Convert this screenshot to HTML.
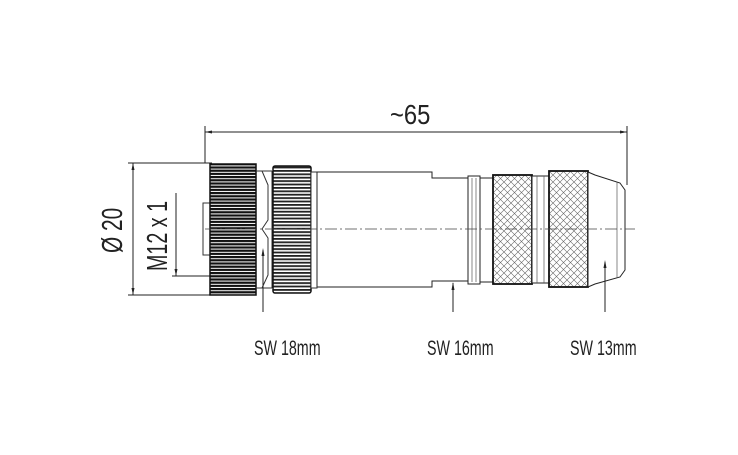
<!DOCTYPE html>
<html><head><style>
html,body{margin:0;padding:0;background:#fff;}
svg{display:block;}
text{font-family:"Liberation Sans",sans-serif;fill:#222;}
</style></head><body>
<svg width="738" height="455" viewBox="0 0 738 455" xmlns="http://www.w3.org/2000/svg">
<defs>
<pattern id="hs" width="4" height="3.2" patternUnits="userSpaceOnUse">
<rect width="4" height="3.2" fill="#fff"/><rect width="4" height="2.2" fill="#111"/>
</pattern>
<pattern id="hs2" width="4" height="3.4" patternUnits="userSpaceOnUse">
<rect width="4" height="3.4" fill="#fff"/><rect width="4" height="1.8" fill="#222"/>
</pattern>
<pattern id="kn" width="7" height="7" patternUnits="userSpaceOnUse">
<rect width="7" height="7" fill="#fff"/>
<path d="M0 0L7 7M7 0L0 7" stroke="#666" stroke-width="0.6"/>
</pattern>
</defs>
<g stroke="#222" stroke-width="1" fill="none">
<line x1="205" y1="126" x2="205" y2="163"/>
<line x1="627" y1="126" x2="627" y2="185"/>
<line x1="205" y1="132" x2="627" y2="132"/>
<line x1="128" y1="163" x2="212" y2="163"/>
<line x1="128" y1="295" x2="212" y2="295"/>
<line x1="133" y1="163" x2="133" y2="295"/>
<line x1="176" y1="193" x2="176" y2="276"/>
<line x1="172" y1="276" x2="212" y2="276"/>
</g>
<g fill="#222">
<polygon points="205,132 212,130.5 212,133.5"/>
<polygon points="627,132 620,130.5 620,133.5"/>
<polygon points="133,163 131.5,170 134.5,170"/>
<polygon points="133,295 131.5,288 134.5,288"/>
<polygon points="176,276 174.5,269 177.5,269"/>
</g>
<rect x="203" y="203" width="8" height="52" fill="#fff" stroke="#333"/>
<rect x="210" y="164" width="46" height="131" fill="url(#hs)" stroke="#111" stroke-width="1.5"/>
<g stroke="#333" fill="none">
<line x1="256" y1="171" x2="272" y2="171"/>
<line x1="256" y1="288" x2="272" y2="288"/>
<path d="M262 171 L268 185 L268 220 L262 229 L268 238 L268 275 L262 288"/>
<line x1="272" y1="171" x2="272" y2="288"/>
</g>
<rect x="273" y="166" width="38" height="127" rx="2" fill="url(#hs2)" stroke="#111" stroke-width="1.5"/>
<rect x="311" y="172" width="6" height="116" fill="#fff" stroke="#333"/>
<g stroke="#222" fill="#fff">
<path d="M317 172 L432 172 L432 178 L468 178 L468 281 L432 281 L432 287 L317 287 Z"/>
<path d="M468 176 L480 176 L480 284 L468 284 Z"/>
<path d="M480 178 L493 178 L493 282 L480 282 Z"/>
<rect x="493" y="175" width="39" height="109" fill="url(#kn)" stroke="#111" stroke-width="1.8"/>
<rect x="532" y="176" width="17" height="107"/>
<rect x="549" y="171" width="39" height="116" fill="url(#kn)" stroke="#111" stroke-width="1.8"/>
<path d="M588 172 L595 175 L620 183 L625 190 L625 270 L620 277 L595 284 L588 287 Z"/>
</g>
<g stroke="#555" stroke-width="0.7">
<line x1="472" y1="178" x2="472" y2="282"/>
<line x1="476" y1="178" x2="476" y2="282"/>
<line x1="537" y1="176" x2="537" y2="283"/>
<line x1="544" y1="176" x2="544" y2="283"/>
<line x1="617" y1="182" x2="617" y2="278"/>
</g>
<line x1="205" y1="229" x2="635" y2="229" stroke="#444" stroke-width="0.8" stroke-dasharray="12,3,2,3"/>
<g stroke="#222">
<line x1="263" y1="312" x2="263" y2="250"/>
<line x1="453" y1="312" x2="453" y2="283"/>
<line x1="605" y1="312" x2="605" y2="262"/>
</g>
<g fill="#222">
<polygon points="263,248 261.5,256 264.5,256"/>
<polygon points="453,282 451.5,290 454.5,290"/>
<polygon points="605,260 603.5,268 606.5,268"/>
</g>
<text font-size="28" transform="translate(390,124) scale(0.85,1)">~65</text>
<text font-size="29" transform="translate(122,253) rotate(-90) scale(0.72,1)">Ø 20</text>
<text font-size="29" transform="translate(167,271) rotate(-90) scale(0.68,1)">M12 x 1</text>
<text font-size="21" transform="translate(254,355) scale(0.68,1)">SW 18mm</text>
<text font-size="21" transform="translate(427,355) scale(0.68,1)">SW 16mm</text>
<text font-size="21" transform="translate(570,355) scale(0.68,1)">SW 13mm</text>
</svg>
</body></html>
